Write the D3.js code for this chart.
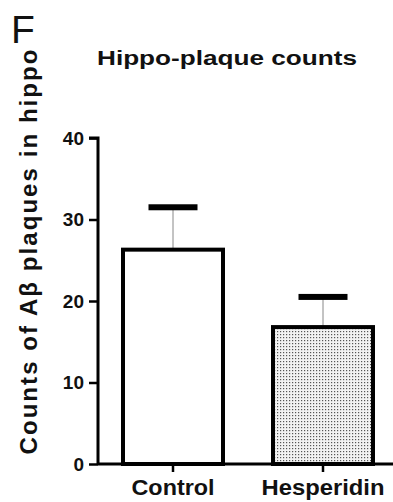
<!DOCTYPE html>
<html><head><meta charset="utf-8">
<script src="https://cdn.jsdelivr.net/npm/d3@7"></script>
<style>body{margin:0;background:#fff}svg{display:block}text{font-family:"Liberation Sans",Arial,sans-serif}</style>
</head><body><svg id="c" width="393" height="502"></svg>
<script>
const categories = ["Control", "Hesperidin"];
const means = [26.3, 16.8];
const errors = [5.2, 3.7];
const yTicks = [0, 10, 20, 30, 40];

const svg = d3.select("#c");
const defs = svg.append("defs");
const pat = defs.append("pattern").attr("id","dots").attr("patternUnits","userSpaceOnUse").attr("width",3).attr("height",3);
pat.append("rect").attr("width",3).attr("height",3).attr("fill","#f2f2f2");
pat.append("rect").attr("x",1).attr("y",1).attr("width",1.2).attr("height",1.2).attr("fill","#555");

const y = d3.scaleLinear().domain([0,40]).range([464,138]);
const x = d3.scaleBand().domain(categories).range([98,398]).paddingInner(1/3).paddingOuter(1/6);

// bars
const g = svg.append("g");
categories.forEach((c,i)=>{
  const cx = x(c)+x.bandwidth()/2;
  g.append("line").attr("x1",cx).attr("x2",cx).attr("y1",y(means[i])).attr("y2",y(means[i]+errors[i]))
   .attr("stroke","#888").attr("stroke-width",1);
  g.append("rect").attr("x",cx-24.5).attr("y",y(means[i]+errors[i])-3).attr("width",49).attr("height",6).attr("fill","#000");
  g.append("rect").attr("x",x(c)).attr("y",y(means[i])).attr("width",x.bandwidth()).attr("height",y(0)-y(means[i]))
   .attr("fill", i===0 ? "#fff" : "url(#dots)").attr("stroke","#000").attr("stroke-width",4);
});

// y axis
const ya = svg.append("g").attr("transform","translate(98,0)").call(d3.axisLeft(y).tickValues(yTicks).tickSize(9).tickPadding(5));
ya.select(".domain").attr("stroke-width",3).attr("d","M-9,138H0V464");
ya.selectAll(".tick line").attr("stroke-width",2.5);
ya.selectAll(".tick text").attr("font-size",19).attr("font-weight","bold").attr("fill","#111").attr("font-family","Liberation Sans, Arial, sans-serif");

// x axis
const xa = svg.append("g").attr("transform","translate(0,464)").call(d3.axisBottom(x).tickSize(8).tickPadding(8));
xa.select(".domain").attr("stroke-width",3).attr("d","M98,0H393");
xa.selectAll(".tick line").attr("stroke-width",2.5);
xa.selectAll(".tick text").attr("font-size",22).attr("font-weight","bold").attr("fill","#111")
  .attr("font-family","Liberation Sans, Arial, sans-serif").attr("dy","0.68em")
  .attr("textLength",(d)=> d==="Control"?83:123).attr("lengthAdjust","spacingAndGlyphs");

// title
svg.append("text").attr("x",227).attr("y",65).attr("text-anchor","middle").attr("font-size",20).attr("font-weight","bold")
  .attr("fill","#111").attr("textLength",260).attr("lengthAdjust","spacingAndGlyphs").text("Hippo-plaque counts");

// panel letter
svg.append("text").attr("x",11).attr("y",43).attr("font-size",39).attr("fill","#111").text("F");

// y label
svg.append("text").attr("transform","translate(37,252) rotate(-90)").attr("text-anchor","middle")
  .attr("font-size",24).attr("font-weight","bold").attr("fill","#111")
  .attr("textLength",405).attr("lengthAdjust","spacing").text("Counts of A\u03B2 plaques in hippo");
</script></body></html>
